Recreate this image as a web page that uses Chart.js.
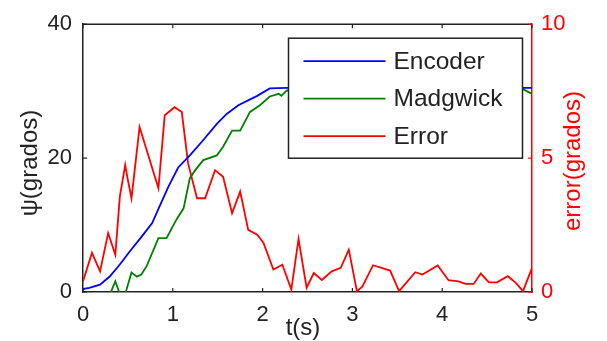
<!DOCTYPE html>
<html>
<head>
<meta charset="utf-8">
<script src="https://cdn.jsdelivr.net/npm/chart.js@4.4.1/dist/chart.umd.min.js"></script>
<style>
html, body { margin: 0; padding: 0; background: #fff; }
</style>
</head>
<body>
<canvas id="chart" width="607" height="341"></canvas>
<script>
// values
const encoderT = [0, 0.07, 0.19, 0.30, 0.41, 0.52, 0.64, 0.77, 0.86, 0.95, 1.06, 1.19, 1.34, 1.49, 1.60, 1.73, 1.85, 1.94, 2.08, 2.27, 3.0, 4.0, 4.9, 5.0];
const encoderPsi = [0.45, 0.6, 1.1, 2.35, 4.1, 6.05, 8.05, 10.3, 13.0, 15.7, 18.6, 20.4, 22.7, 25.1, 26.6, 27.9, 28.7, 29.3, 30.4, 30.5, 30.5, 30.5, 30.5, 30.5];

const madgwickT = [0, 0.2, 0.31, 0.36, 0.41, 0.47, 0.54, 0.60, 0.65, 0.71, 0.84, 0.93, 1.04, 1.12, 1.19, 1.25, 1.34, 1.49, 1.56, 1.66, 1.75, 1.86, 1.97, 2.08, 2.18, 2.21, 2.27, 3.0, 4.0, 4.9, 5.0];
const madgwickPsi = [-1.5, -1, 0, 1.6, -0.3, -0.3, 2.9, 2.3, 2.6, 3.9, 8.05, 8.05, 10.8, 12.5, 17.0, 18.2, 19.7, 20.4, 21.7, 24.1, 24.1, 26.9, 27.9, 29.2, 29.6, 29.3, 30.1, 30.3, 30.3, 30.3, 29.6];

const errorT = [0, 0.10, 0.19, 0.28, 0.36, 0.41, 0.47, 0.50, 0.54, 0.63, 0.84, 0.91, 1.02, 1.10, 1.17, 1.27, 1.36, 1.47, 1.56, 1.66, 1.75, 1.84, 1.94, 2.01, 2.12, 2.22, 2.32, 2.40, 2.49, 2.57, 2.66, 2.77, 2.87, 2.96, 3.05, 3.11, 3.23, 3.42, 3.52, 3.70, 3.78, 3.95, 4.07, 4.18, 4.26, 4.35, 4.43, 4.52, 4.61, 4.73, 4.82, 4.90, 5.00];
const errorVal = [0.4, 1.46, 0.77, 2.2, 1.39, 3.56, 4.74, 4.18, 3.5, 6.16, 3.87, 6.6, 6.9, 6.72, 4.8, 3.5, 3.5, 4.55, 4.3, 2.94, 3.75, 2.32, 2.14, 1.83, 0.84, 1.02, 0.09, 1.98, 0.16, 0.71, 0.45, 0.77, 0.9, 1.58, 0.03, 0.2, 1.0, 0.8, 0.03, 0.74, 0.65, 0.99, 0.44, 0.40, 0.30, 0.30, 0.69, 0.36, 0.36, 0.59, 0.34, 0.03, 0.9];

const xTicks = [0, 1, 2, 3, 4, 5];
const psiTicks = [0, 20, 40];
const errTicks = [0, 5, 10];

const FONT = '"Liberation Sans", Arial, sans-serif';
const AXIS = '#222';

function pts(ts, vs) {
    return ts.map((t, i) => ({x: t, y: vs[i]}));
}

// MATLAB style extras: inward ticks, top border, axis titles, boxed legend
const matlabLook = {
    id: 'matlabLook',
    beforeDatasetsDraw(chart) {
        const {ctx, chartArea: a, scales} = chart;
        ctx.save();
        ctx.lineWidth = 1.5;
        ctx.strokeStyle = AXIS;
        ctx.beginPath();
        ctx.moveTo(a.left, a.top);
        ctx.lineTo(a.right, a.top);
        ctx.stroke();
        ctx.lineWidth = 1.2;
        xTicks.forEach(v => {
            const px = scales.x.getPixelForValue(v);
            ctx.beginPath();
            ctx.moveTo(px, a.bottom); ctx.lineTo(px, a.bottom - 4);
            ctx.moveTo(px, a.top); ctx.lineTo(px, a.top + 4);
            ctx.stroke();
        });
        psiTicks.forEach(v => {
            const py = scales.y.getPixelForValue(v);
            ctx.beginPath();
            ctx.moveTo(a.left, py); ctx.lineTo(a.left + 4, py);
            ctx.stroke();
        });
        ctx.strokeStyle = '#f00';
        errTicks.forEach(v => {
            const py = scales.y2.getPixelForValue(v);
            ctx.beginPath();
            ctx.moveTo(a.right, py); ctx.lineTo(a.right - 4, py);
            ctx.stroke();
        });
        ctx.restore();
    },
    afterDatasetsDraw(chart) {
        const {ctx, chartArea: a} = chart;
        ctx.save();
        // legend box
        const bx = a.left + 205.5, by = a.top + 14, bw = 234, bh = 120;
        ctx.fillStyle = '#fff';
        ctx.fillRect(bx, by, bw, bh);
        ctx.lineWidth = 1.5;
        ctx.strokeStyle = AXIS;
        ctx.strokeRect(bx, by, bw, bh);
        ctx.font = '24.5px ' + FONT;
        ctx.textBaseline = 'middle';
        ctx.textAlign = 'left';
        chart.data.datasets.forEach((ds, i) => {
            const y = by + 23 + i * 37.5;
            ctx.strokeStyle = ds.borderColor;
            ctx.lineWidth = 1.8;
            ctx.beginPath();
            ctx.moveTo(bx + 15, y);
            ctx.lineTo(bx + 97, y);
            ctx.stroke();
            ctx.fillStyle = AXIS;
            ctx.fillText(ds.label, bx + 105, y + 1);
        });
        // axis titles
        ctx.font = '24px ' + FONT;
        ctx.textAlign = 'center';
        ctx.fillStyle = AXIS;
        ctx.fillText('t(s)', 303, 328);
        ctx.save();
        ctx.translate(30, 163);
        ctx.rotate(-Math.PI / 2);
        ctx.fillText('ψ(grados)', 0, 0);
        ctx.restore();
        ctx.save();
        ctx.translate(573, 161);
        ctx.rotate(-Math.PI / 2);
        ctx.fillStyle = '#f00';
        ctx.fillText('error(grados)', 0, 0);
        ctx.restore();
        ctx.restore();
    }
};

new Chart(document.getElementById('chart'), {
    type: 'line',
    data: {
        datasets: [
            {label: 'Encoder', data: pts(encoderT, encoderPsi), borderColor: '#0000ff', yAxisID: 'y'},
            {label: 'Madgwick', data: pts(madgwickT, madgwickPsi), borderColor: '#008000', yAxisID: 'y', clip: 0},
            {label: 'Error', data: pts(errorT, errorVal), borderColor: '#ff0000', yAxisID: 'y2'}
        ]
    },
    options: {
        responsive: false,
        animation: false,
        devicePixelRatio: 1,
        layout: {padding: {top: 23, left: 0, right: 0, bottom: 0}},
        elements: {
            point: {radius: 0},
            line: {tension: 0, borderWidth: 1.8, fill: false}
        },
        plugins: {
            legend: {display: false},
            tooltip: {enabled: false}
        },
        scales: {
            x: {
                type: 'linear', position: 'bottom', min: 0, max: 5,
                ticks: {stepSize: 1, padding: 10, color: AXIS, font: {family: FONT, size: 22}},
                grid: {display: false, drawTicks: false},
                border: {color: AXIS, width: 1.5},
                afterFit: s => { s.height = 49; }
            },
            y: {
                position: 'left', min: 0, max: 40,
                ticks: {stepSize: 20, padding: 11, color: AXIS, font: {family: FONT, size: 22}},
                grid: {display: false, drawTicks: false},
                border: {color: AXIS, width: 1.5},
                afterFit: s => { s.width = 83; }
            },
            y2: {
                position: 'right', min: 0, max: 10,
                ticks: {stepSize: 5, padding: 9, color: '#ff0000', font: {family: FONT, size: 22}},
                grid: {display: false, drawTicks: false},
                border: {color: '#ff0000', width: 1.5},
                afterFit: s => { s.width = 75; }
            }
        }
    },
    plugins: [matlabLook]
});
</script>
</body>
</html>
